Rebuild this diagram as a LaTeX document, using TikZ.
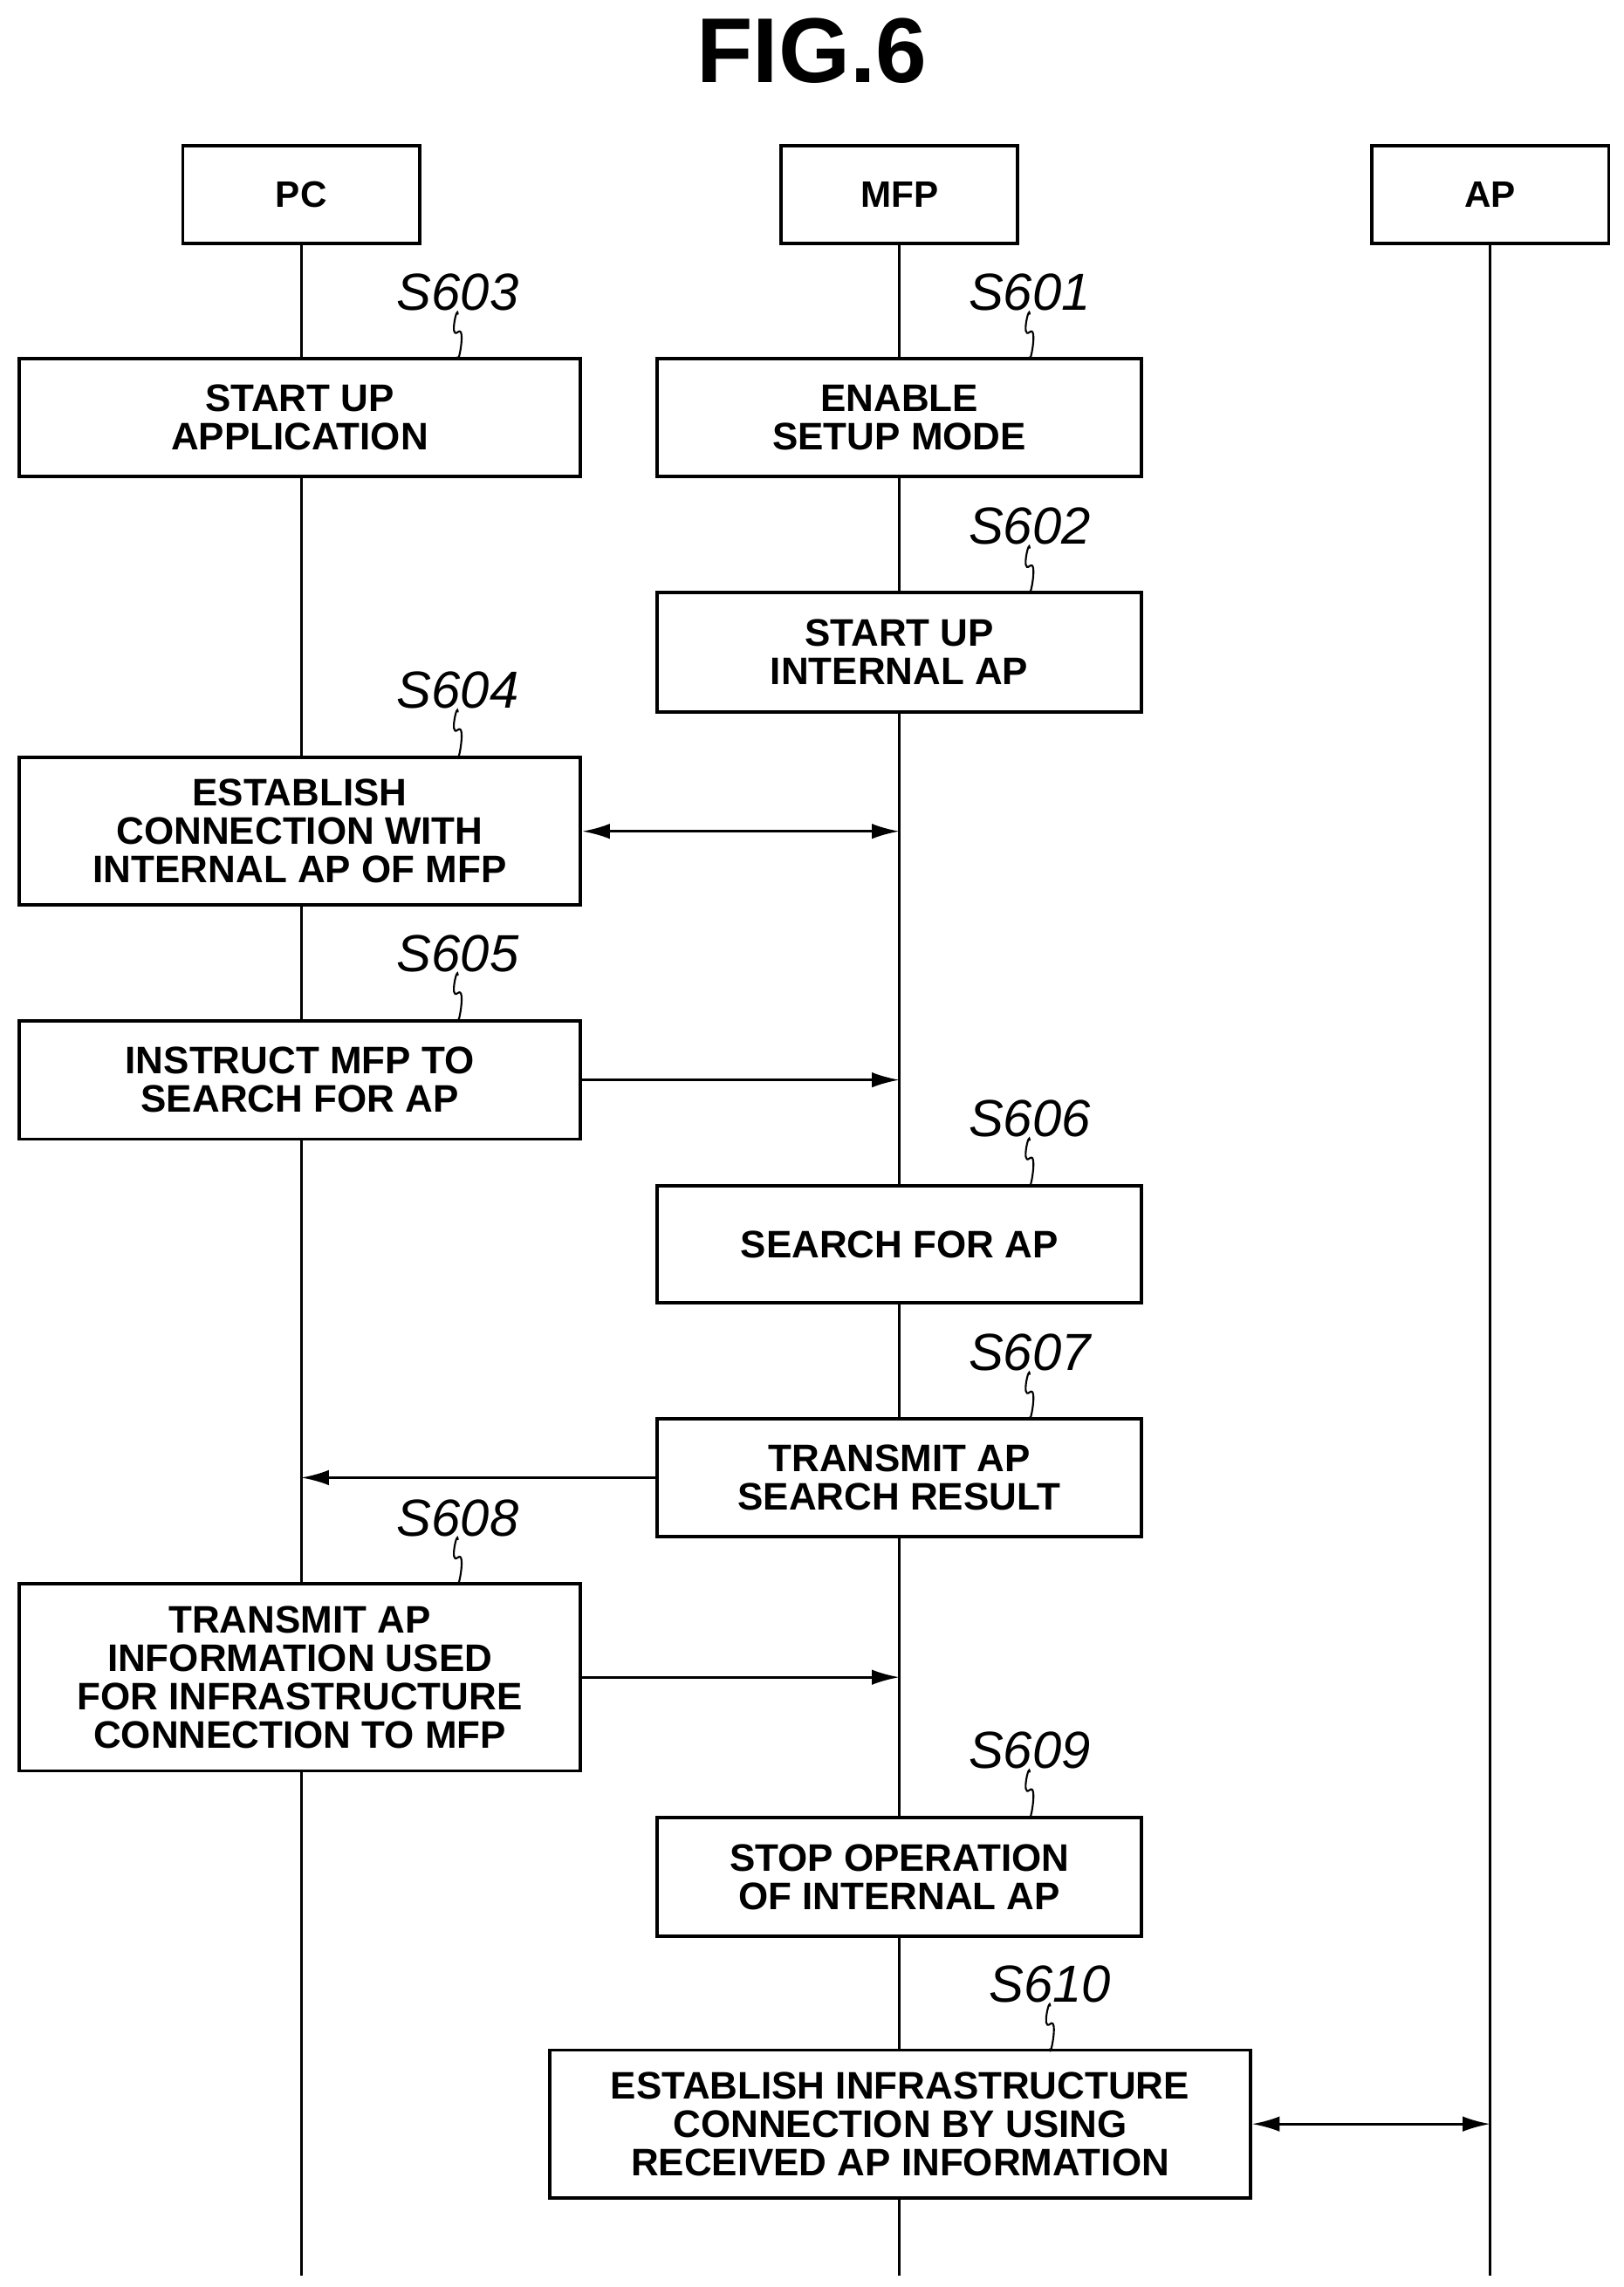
\documentclass[tikz,border=0pt]{standalone}
\usepackage{fontspec}
\setmainfont{Liberation Sans}
\usetikzlibrary{arrows.meta,positioning,calc}
\newlength{\du}
\setlength{\du}{0.01676cm}
\tikzset{
  hd/.style={draw,line width=1.1pt,minimum width=162\du,minimum height=67\du,font=\bfseries\fontsize{12}{12}\selectfont},
  stepbox/.style={draw,line width=1.1pt,fill=white,align=center,inner sep=0pt,font=\bfseries\fontsize{12.5}{12.5}\selectfont},
  lbl/.style={font=\itshape\fontsize{17}{17}\selectfont,inner sep=1pt},
  life/.style={line width=0.8pt},
  msg/.style={line width=0.8pt,-{Latex[length=9pt,width=5pt]}},
  dmsg/.style={line width=0.8pt,{Latex[length=9pt,width=5pt]}-{Latex[length=9pt,width=5pt]}}
}
\newcommand{\tick}[2]{\draw[line width=0.6pt] (#1) .. controls +(0,-8) and +(-6,5) .. ($(#1)+(0,12)$) .. controls +(6,-5) and +(0,8) .. (#2);}
\begin{document}
\begin{tikzpicture}[x=0.01676cm,y=-0.01676cm]
\useasboundingbox (0,0) rectangle (1110,1564);
\node[font=\bfseries\fontsize{30}{30}\selectfont] (title) at (555,35) {FIG.6};
% headers
\node[hd] (pc) at (206,133) {PC};
\node[hd] (mfp) at (615,133) {MFP};
\node[hd] (ap) at (1019,133) {AP};
\coordinate (pcend) at (206,1556);
\coordinate (mfpend) at (615,1556);
\coordinate (apend) at (1019,1556);
\draw[life] (pc) -- (pcend);
\draw[life] (mfp) -- (mfpend);
\draw[life] (ap) -- (apend);
% steps
\node[stepbox,minimum width=384\du,minimum height=81\du] (s603) at (205,285.5) {START UP\\APPLICATION};
\node[stepbox,minimum width=331\du,minimum height=81\du] (s601) at (615,285.5) {ENABLE\\SETUP MODE};
\node[stepbox,minimum width=331\du,minimum height=82\du] (s602) at (615,446) {START UP\\INTERNAL AP};
\node[stepbox,minimum width=384\du,minimum height=101\du] (s604) at (205,568.5) {ESTABLISH\\CONNECTION WITH\\INTERNAL AP OF MFP};
\node[stepbox,minimum width=384\du,minimum height=81\du] (s605) at (205,738.5) {INSTRUCT MFP TO\\SEARCH FOR AP};
\node[stepbox,minimum width=331\du,minimum height=80\du] (s606) at (615,851) {SEARCH FOR AP};
\node[stepbox,minimum width=331\du,minimum height=81\du] (s607) at (615,1010.5) {TRANSMIT AP\\SEARCH RESULT};
\node[stepbox,minimum width=384\du,minimum height=128\du] (s608) at (205,1147) {TRANSMIT AP\\INFORMATION USED\\FOR INFRASTRUCTURE\\CONNECTION TO MFP};
\node[stepbox,minimum width=331\du,minimum height=81\du] (s609) at (615,1283.5) {STOP OPERATION\\OF INTERNAL AP};
\node[stepbox,minimum width=479\du,minimum height=101\du] (s610) at (615.5,1452.5) {ESTABLISH INFRASTRUCTURE\\CONNECTION BY USING\\RECEIVED AP INFORMATION};
% step labels
\foreach \n/\x/\y/\b in {S603/313/200/s603,S601/704/200/s601,S602/704/360/s602,S604/313/472/s604,
  S605/313/652/s605,S606/704/765/s606,S607/704/925/s607,S608/313/1038/s608,S609/704/1197/s609,S610/718/1357/s610}{
  \node[lbl] (l\b) at (\x,\y) {\n};
  \tick{l\b.south}{l\b.south |- \b.north}
}
% messages
\draw[dmsg] (s604.east) -- (s604.east -| mfp);
\draw[msg] (s605.east) -- (s605.east -| mfp);
\draw[msg] (s607.west) -- (s607.west -| pc);
\draw[msg] (s608.east) -- (s608.east -| mfp);
\draw[dmsg] (s610.east) -- (s610.east -| ap);
\end{tikzpicture}
\end{document}
